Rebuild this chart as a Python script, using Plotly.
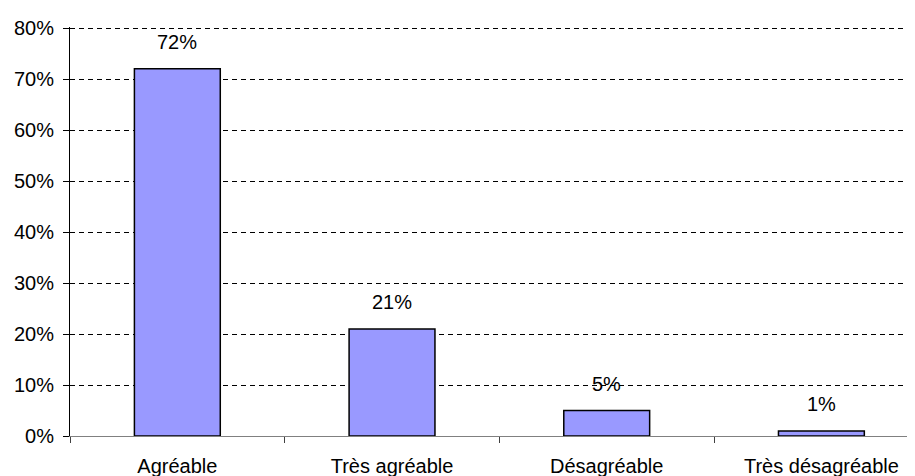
import plotly.graph_objects as go

categories = ["Agréable", "Très agréable", "Désagréable", "Très désagréable"]
values = [72, 21, 5, 1]
labels = ["72%", "21%", "5%", "1%"]
y_ticks = [0, 10, 20, 30, 40, 50, 60, 70, 80]
y_tick_text = ["0%", "10%", "20%", "30%", "40%", "50%", "60%", "70%", "80%"]

fig = go.Figure()
fig.add_trace(go.Bar(
    x=categories, y=values, width=0.4,
    marker=dict(color="#9999FF", line=dict(color="black", width=1.5)),
))
for c, v, t in zip(categories, values, labels):
    fig.add_annotation(x=c, y=v, text=t, showarrow=False, yanchor="bottom",
                       yshift=14, font=dict(size=20, color="black"))

# page body has an 8px margin, so the figure is offset by 8px
fig.update_layout(
    width=907, height=468,
    margin=dict(l=62, r=0, t=19, b=40),
    paper_bgcolor="white", plot_bgcolor="white",
    font=dict(family="Liberation Sans, Arial", size=20, color="black"),
    showlegend=False,
)
fig.update_xaxes(
    type="category", range=[-0.5, 3.436],
    showline=True, linecolor="#808080", linewidth=1,
    ticks="outside", tickson="boundaries", ticklen=6, tickcolor="#404040",
    ticklabelstandoff=12, showgrid=False,
)
fig.update_yaxes(
    range=[0, 80.2], tickvals=y_ticks, ticktext=y_tick_text,
    showline=True, linecolor="black", linewidth=1,
    ticks="outside", ticklen=6, tickcolor="black",
    ticklabelstandoff=5,
    showgrid=True, gridcolor="black", gridwidth=1, griddash="5px,4px",
    zeroline=False,
)
fig.write_html("out.html")
